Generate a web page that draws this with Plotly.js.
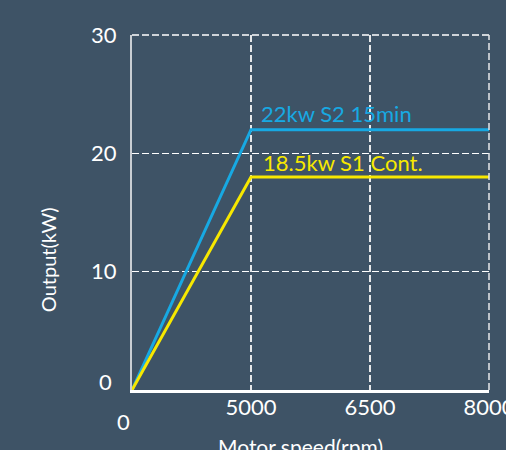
<!DOCTYPE html>
<html>
<head>
<meta charset="utf-8">
<script src="https://cdn.plot.ly/plotly-3.0.1.min.js"></script>
<style>
html,body{margin:0;padding:0;background:#3e5366;}
#chart{width:506px;height:450px;}
</style>
</head>
<body>
<div id="chart"></div>
<script>
// Data
var speedCategories = ['0', '5000', '6500', '8000'];
var speedPoints = ['0', '5000', '8000'];
var s2Output = [0, 22, 22];
var s1Output = [0, 18, 18];
var yTickVals = [0, 10, 20, 30];
var yTickText = ['', '10', '20', '30'];
var xTickText = ['', '5000', '6500', '8000'];
var s2Label = '22kw S2 15min';
var s1Label = '18.5kw S1 Cont.';

var FONT = 'Lato, "Open Sans", sans-serif';
var BLUE = '#17a9e3';
var YELLOW = '#f7e800';
var cornerIdx = speedCategories.indexOf(speedPoints[1]);

var traces = [
  {x: speedPoints, y: s2Output, type: 'scatter', mode: 'lines',
   line: {color: BLUE, width: 3}, hoverinfo: 'none'},
  {x: speedPoints, y: s1Output, type: 'scatter', mode: 'lines',
   line: {color: YELLOW, width: 3}, hoverinfo: 'none'}
];

var layout = {
  width: 506, height: 450,
  margin: {l: 132, r: 17, t: 35, b: 60},
  paper_bgcolor: '#3e5366',
  plot_bgcolor: '#3e5366',
  showlegend: false,
  font: {family: FONT, color: '#ffffff', size: 22},
  xaxis: {
    type: 'category',
    categoryorder: 'array',
    categoryarray: speedCategories,
    range: [0, 3],
    tickmode: 'array',
    tickvals: speedCategories,
    ticktext: xTickText,
    showgrid: true,
    gridcolor: '#e6e8ea',
    gridwidth: 1.5,
    griddash: '7px,3px',
    showline: true,
    linecolor: '#ffffff',
    linewidth: 2.5,
    zeroline: false,
    ticks: '',
    ticklabelstandoff: -4,
    tickfont: {family: FONT, size: 22, color: '#ffffff'},
    fixedrange: true
  },
  yaxis: {
    range: [0, 30],
    tickmode: 'array',
    tickvals: yTickVals,
    ticktext: yTickText,
    showgrid: true,
    gridcolor: '#ffffff',
    gridwidth: 1.5,
    griddash: '7px,3px',
    showline: true,
    linecolor: '#c9ced3',
    linewidth: 2,
    zeroline: false,
    ticks: '',
    ticklabelstandoff: 9,
    tickfont: {family: FONT, size: 22, color: '#ffffff'},
    fixedrange: true
  },
  shapes: [
    {type: 'line', xref: 'paper', yref: 'paper', x0: 0, x1: 1, y0: 1, y1: 1,
     line: {color: '#ffffff', width: 1.5, dash: '7px,3px'}},
    {type: 'line', xref: 'paper', yref: 'paper', x0: 1, x1: 1, y0: 0, y1: 1,
     line: {color: '#e6e8ea', width: 1.5, dash: '7px,3px'}}
  ],
  annotations: [
    {x: cornerIdx, y: s2Output[1], xref: 'x', yref: 'y', text: s2Label,
     showarrow: false, xanchor: 'left', yanchor: 'bottom', xshift: 8, yshift: 1,
     font: {family: FONT, size: 22, color: BLUE}},
    {x: cornerIdx, y: s1Output[1], xref: 'x', yref: 'y', text: s1Label,
     showarrow: false, xanchor: 'left', yanchor: 'bottom', xshift: 10, yshift: -1,
     font: {family: FONT, size: 22, color: YELLOW}},
    {x: -0.075, y: 0.025, xref: 'paper', yref: 'paper', text: '0',
     showarrow: false, xanchor: 'center', yanchor: 'middle',
     font: {family: FONT, size: 22, color: '#ffffff'}},
    {x: -0.025, y: -0.09, xref: 'paper', yref: 'paper', text: '0',
     showarrow: false, xanchor: 'center', yanchor: 'middle',
     font: {family: FONT, size: 22, color: '#ffffff'}},
    {x: -0.235, y: 0.366, xref: 'paper', yref: 'paper', text: 'Output(kW)',
     textangle: -90, showarrow: false, xanchor: 'center', yanchor: 'middle',
     font: {family: FONT, size: 20, color: '#ffffff'}},
    {x: 0.4706, y: -0.16, xref: 'paper', yref: 'paper', text: 'Motor speed(rpm)',
     showarrow: false, xanchor: 'center', yanchor: 'middle',
     font: {family: FONT, size: 21, color: '#ffffff'}}
  ]
};

Plotly.newPlot('chart', traces, layout, {displayModeBar: false, staticPlot: true});
</script>
</body>
</html>
